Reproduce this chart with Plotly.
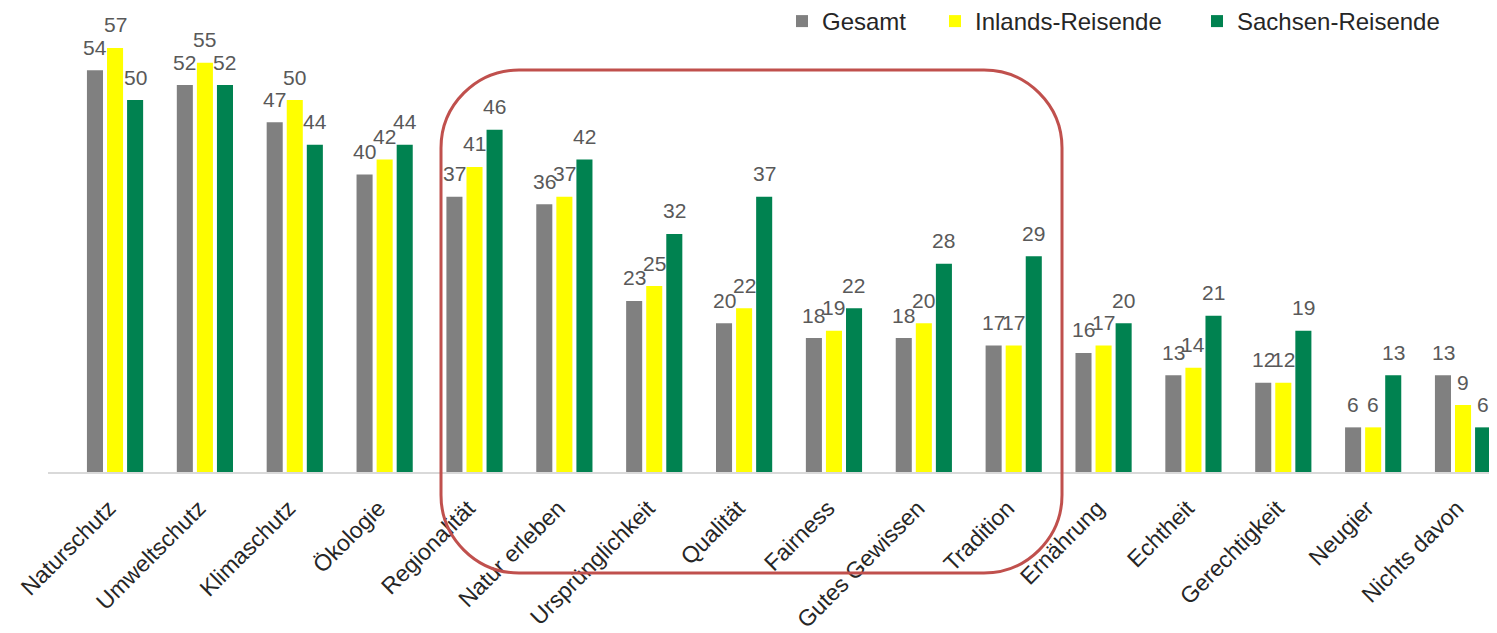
import plotly.graph_objects as go

categories = ["Naturschutz", "Umweltschutz", "Klimaschutz", "Ökologie", "Regionalität",
              "Natur erleben", "Ursprünglichkeit", "Qualität", "Fairness", "Gutes Gewissen",
              "Tradition", "Ernährung", "Echtheit", "Gerechtigkeit", "Neugier", "Nichts davon"]
gesamt = [54, 52, 47, 40, 37, 36, 23, 20, 18, 18, 17, 16, 13, 12, 6, 13]
inland = [57, 55, 50, 42, 41, 37, 25, 22, 19, 20, 17, 17, 14, 12, 6, 9]
sachsen = [50, 52, 44, 44, 46, 42, 32, 37, 22, 28, 29, 20, 21, 19, 13, 6]

series = [("Gesamt", gesamt, "#808080"),
          ("Inlands-Reisende", inland, "#FFFF00"),
          ("Sachsen-Reisende", sachsen, "#008250")]

# page body has an 8px default margin -> work in screen pixels and subtract it
OFF = 8
W, H = 1497 - OFF, 633 - OFF
ML, MR, MT = 48 - OFF, 0, 10 - OFF
BASE = 472 - OFF
MB = H - BASE
PW, PH = W - ML - MR, H - MT - MB
FONT = "Liberation Sans, Arial"

legend_ids = ["legend", "legend2", "legend3"]
legend_text_x = [822, 975, 1237]  # screen x where legend text starts

fig = go.Figure()
for (name, vals, col), lid in zip(series, legend_ids):
    fig.add_trace(go.Bar(x=categories, y=vals, name=name, marker_color=col,
                         marker_line_width=0, legend=lid, showlegend=True))

# data labels
shifts = [-20, 0, 20]
for (name, vals, col), sx in zip(series, shifts):
    for c, v in zip(categories, vals):
        fig.add_annotation(x=c, y=v, xref="x", yref="y", text=str(v), showarrow=False,
                           xshift=sx, yshift=23, yanchor="middle",
                           font=dict(family=FONT, size=21, color="#595959"))

# screen pixel -> paper
def px(x):
    return (x - OFF - ML) / PW
def py(y):
    return (MT + PH - (y - OFF)) / PH

# rounded highlight rectangle
x0, x1, y0, y1, r = 441, 1062, 70, 573, 78
k = 0.45
path = (f"M {px(x0 + r)},{py(y0)} L {px(x1 - r)},{py(y0)} "
        f"C {px(x1 - r*k)},{py(y0)} {px(x1)},{py(y0 + r*k)} {px(x1)},{py(y0 + r)} "
        f"L {px(x1)},{py(y1 - r)} "
        f"C {px(x1)},{py(y1 - r*k)} {px(x1 - r*k)},{py(y1)} {px(x1 - r)},{py(y1)} "
        f"L {px(x0 + r)},{py(y1)} "
        f"C {px(x0 + r*k)},{py(y1)} {px(x0)},{py(y1 - r*k)} {px(x0)},{py(y1 - r)} "
        f"L {px(x0)},{py(y0 + r)} "
        f"C {px(x0)},{py(y0 + r*k)} {px(x0 + r*k)},{py(y0)} {px(x0 + r)},{py(y0)} Z")
fig.add_shape(type="path", path=path, xref="paper", yref="paper",
              line=dict(color="#C0504D", width=3))

legend_common = dict(orientation="h", xanchor="left", yanchor="top", y=py(-1),
                     font=dict(family=FONT, size=24, color="#262626"), itemwidth=30,
                     bgcolor="rgba(0,0,0,0)", visible=True)
legends = {}
for lid, tx in zip(legend_ids, legend_text_x):
    legends[lid] = dict(legend_common, x=px(tx - 40))

fig.update_layout(
    width=W, height=H,
    showlegend=True,
    margin=dict(l=ML, r=MR, t=MT, b=MB, autoexpand=False),
    paper_bgcolor="white", plot_bgcolor="white",
    barmode="group", bargap=0.33, bargroupgap=0.2,
    font=dict(family=FONT, color="#262626"),
    xaxis=dict(type="category", range=[-0.746, 15.378], tickangle=-45, automargin=False,
               showline=True, linecolor="#D9D9D9", linewidth=1.5, ticks="",
               ticklabelstandoff=12, ticklabelshift=-6,
               tickfont=dict(family=FONT, size=23, color="#262626"), showgrid=False),
    yaxis=dict(range=[0, PH / 7.44], visible=False, showgrid=False, zeroline=False,
               automargin=False),
    **legends,
)

fig.write_html("out.html")
